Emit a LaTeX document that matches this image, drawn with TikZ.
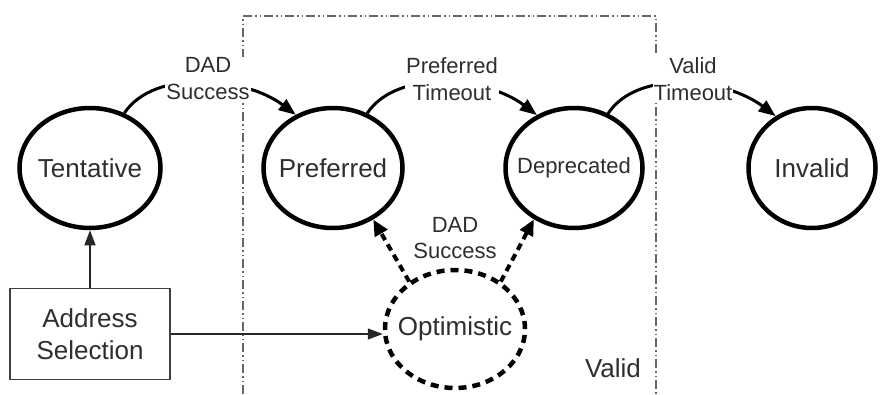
\documentclass[tikz,border=0pt]{standalone}
\usepackage{fontspec}
\setmainfont{Liberation Sans}
\usetikzlibrary{shapes.geometric,arrows.meta}
\begin{document}
\begin{tikzpicture}[x=1pt,y=1pt,
  every node/.style={text=black!82},
  state/.style={ellipse, draw=black, line width=4.5pt, inner sep=0pt,
    minimum height=120pt, font=\fontsize{26}{30}\selectfont},
  optstate/.style={state, dash pattern=on 8pt off 6pt},
  trans/.style={draw=black, line width=3pt, -{Triangle[length=17pt,width=13pt]}},
  dtrans/.style={draw=black, line width=4pt, dash pattern=on 7pt off 5pt,
    -{Triangle[length=16pt,width=14pt]}},
  tharrow/.style={draw=black!85, line width=1.2pt, -{Triangle[length=15pt,width=11pt]}},
  lbl/.style={fill=white, inner sep=1pt, align=center, font=\fontsize{22}{27}\selectfont},
  boxnode/.style={draw=black!75, line width=1.2pt, minimum width=160pt, minimum height=91pt,
    align=center, font=\fontsize{26}{32}\selectfont},
  region/.style={draw=black!60, line width=1.2pt,
    dash pattern=on 9pt off 3pt on 1.5pt off 3pt on 1.5pt off 3pt}
]
\useasboundingbox (0,0) rectangle (881,-394);
\fill[white] (0,0) rectangle (881,-394);

% Valid region
\draw[region] (243,-394) -- (243,-16) -- (656,-16) -- (656,-394);

% States
\node[state, minimum width=141pt] (tent) at (90,-168) {\makebox[0pt]{Tentative}};
\node[state, minimum width=139pt] (pref) at (333,-168) {\makebox[0pt]{Preferred}};
\node[state, minimum width=137pt, font=\fontsize{22}{26}\selectfont] (dep) at (574,-168) {\makebox[0pt]{Deprecated}};
\node[state, minimum width=127pt] (inv) at (812,-168) {\makebox[0pt]{Invalid}};
\node[optstate, minimum width=140pt, minimum height=118pt] (opt) at (455,-329) {\makebox[0pt]{Optimistic}};
\node[boxnode] (box) at (90,-334) {Address\\Selection};

% Transitions
\draw[trans] (tent.58) .. controls +(30,45) and +(-50,38) .. (pref.125);
\draw[trans] (pref.58) .. controls +(30,45) and +(-50,38) .. (dep.125);
\draw[trans] (dep.58) .. controls +(30,45) and +(-50,38) .. (inv.125);

\node[lbl] (l1) at (208,-79) {DAD\\Success};
\node[lbl] (l2) at (452,-79) {Preferred\\Timeout};
\node[lbl] (l3) at (693,-79) {Valid\\Timeout};

\draw[dtrans] (opt.134) -- (pref.-52);
\draw[dtrans] (opt.46) -- (dep.-128);
\node[align=center, font=\fontsize{22}{26}\selectfont] (l4) at (455,-238) {DAD\\Success};

\draw[tharrow] (box.north) -- (tent.south);
\draw[tharrow] (box.east) -- (box.east -| opt.west);

\node[font=\fontsize{26}{30}\selectfont] (valid) at (613,-368) {Valid};
\end{tikzpicture}
\end{document}
